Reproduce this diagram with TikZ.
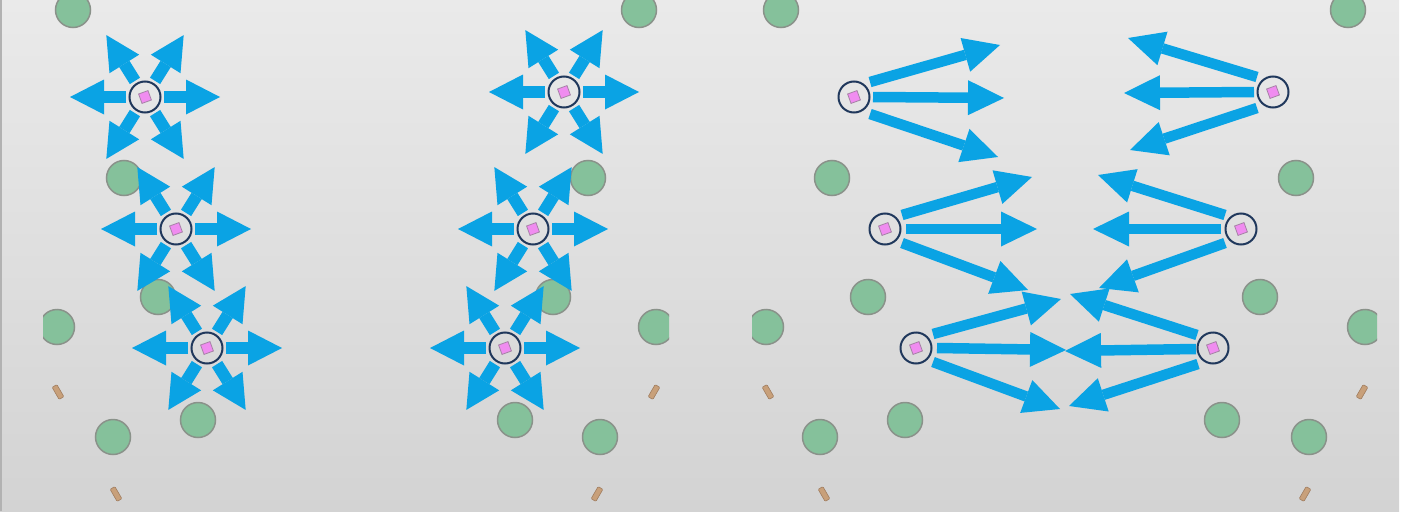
\documentclass[tikz,border=0pt]{standalone}
\usetikzlibrary{arrows.meta}
\definecolor{bgtop}{RGB}{234,234,234}
\definecolor{bgbot}{RGB}{211,211,211}
\definecolor{arrowblue}{RGB}{10,163,228}
\definecolor{treefill}{RGB}{133,193,155}
\definecolor{treeline}{RGB}{138,146,138}
\definecolor{ringcol}{RGB}{32,56,92}
\definecolor{pinkfill}{RGB}{240,140,240}
\definecolor{pinkline}{RGB}{165,130,165}
\definecolor{logfill}{RGB}{200,160,122}
\definecolor{logline}{RGB}{160,125,95}
\tikzset{
  tree/.style={circle, minimum size=35pt, inner sep=0pt, fill=treefill, draw=treeline, line width=1.5pt},
  logn/.style={rectangle, rounded corners=1pt, minimum width=5.5pt, minimum height=14pt, inner sep=0pt, fill=logfill, draw=logline, line width=0.6pt},
  agent/.style={circle, minimum size=31pt, inner sep=0pt, draw=ringcol, line width=2pt},
  pinksq/.style={rectangle, minimum size=10pt, inner sep=0pt, fill=pinkfill, draw=pinkline, line width=0.8pt, rotate=20},
  starr/.style={draw=arrowblue, line width=12pt, -{Triangle[length=34pt,width=35pt,line width=0pt]}},
  fanarr/.style={draw=arrowblue, line width=10.5pt, -{Triangle[length=36pt,width=35pt,line width=0pt]}}
}
\newcommand\staragent[3]{%
  \foreach \a/\L in {0/75,58/73,122/73,180/75,238/73,302/73}{
    \draw[starr,shift={(#2,#3)}] (\a:19) -- (\a:\L);
  }
  \node[agent] (#1) at (#2,#3) {};
  \node[pinksq] at (#1) {};
}
\newcommand\plainagent[3]{%
  \node[agent] (#1) at (#2,#3) {};
  \node[pinksq] at (#1) {};
}
\begin{document}
\begin{tikzpicture}[x=1pt,y=-1pt]
\useasboundingbox (0,0) rectangle (1407,511);
% background
\fill[white] (0,0) rectangle (1407,511);
\shade[top color=bgtop, bottom color=bgbot] (0,0) rectangle (1399,511);
\draw[gray!60,line width=1.5pt] (0.75,0) -- (0.75,511);

% ---------- trees and logs ----------
\begin{scope}
\clip (0,0) rectangle (1399,511);
% panel 1
\node[tree] (t1) at (73,10) {};
\node[tree] (t2) at (124,178) {};
\node[tree] (t3) at (158,297) {};
\node[tree] (t5) at (113,437) {};
\node[tree] (t6) at (198,420) {};
% panel 2
\node[tree] (u1) at (639,10) {};
\node[tree] (u2) at (588,178) {};
\node[tree] (u3) at (553,297) {};
\node[tree] (u5) at (600,437) {};
\node[tree] (u6) at (515,420) {};
% panel 3
\node[tree] (v1) at (781,10) {};
\node[tree] (v2) at (832,178) {};
\node[tree] (v3) at (868,297) {};
\node[tree] (v5) at (820,437) {};
\node[tree] (v6) at (905,420) {};
\node[tree] (w1) at (1348,10) {};
\node[tree] (w2) at (1296,178) {};
\node[tree] (w3) at (1260,297) {};
\node[tree] (w5) at (1309,437) {};
\node[tree] (w6) at (1222,420) {};
\end{scope}
% clipped trees
\begin{scope}\clip (43,0) rectangle (200,511); \node[tree] (t4) at (57,327) {};\end{scope}
\begin{scope}\clip (500,0) rectangle (669,511); \node[tree] (u4) at (656,327) {};\end{scope}
\begin{scope}\clip (752,0) rectangle (900,511); \node[tree] (v4) at (766,327) {};\end{scope}
\begin{scope}\clip (1200,0) rectangle (1377,511); \node[tree] (w4) at (1365,327) {};\end{scope}
% logs
\node[logn, rotate=30] (l1) at (58,392) {};
\node[logn, rotate=30] (l2) at (116,494) {};
\node[logn, rotate=-30] (l3) at (654,392) {};
\node[logn, rotate=-30] (l4) at (597,494) {};
\node[logn, rotate=30] (l5) at (768,392) {};
\node[logn, rotate=30] (l6) at (824,494) {};
\node[logn, rotate=-30] (l7) at (1362,392) {};
\node[logn, rotate=-30] (l8) at (1305,494) {};

% ---------- panel 1 and 2: star agents ----------
\staragent{a1}{145}{97}
\staragent{a2}{176}{229}
\staragent{a3}{207}{348}
\staragent{b1}{564}{92}
\staragent{b2}{533}{229}
\staragent{b3}{505}{348}

% ---------- panel 3: fan agents ----------
% left column
\draw[fanarr] (870,82) -- (1000,45);
\draw[fanarr] (873,97) -- (1004,98);
\draw[fanarr] (870,114) -- (998,157);
\draw[fanarr] (902,215) -- (1032,177);
\draw[fanarr] (906,229) -- (1037,229);
\draw[fanarr] (902,243) -- (1028,290);
\draw[fanarr] (933,334) -- (1061,299);
\draw[fanarr] (937,348) -- (1066,350);
\draw[fanarr] (933,362) -- (1060,409);
% right column
\draw[fanarr] (1257,77) -- (1128,38);
\draw[fanarr] (1254,92) -- (1124,93);
\draw[fanarr] (1257,108) -- (1130,150);
\draw[fanarr] (1225,215) -- (1098,175);
\draw[fanarr] (1221,229) -- (1093,229);
\draw[fanarr] (1225,243) -- (1099,288);
\draw[fanarr] (1197,335) -- (1070,294);
\draw[fanarr] (1196,349) -- (1065,351);
\draw[fanarr] (1198,364) -- (1069,406);
\plainagent{c1}{854}{97}
\plainagent{c2}{885}{229}
\plainagent{c3}{916}{348}
\plainagent{d1}{1273}{92}
\plainagent{d2}{1241}{229}
\plainagent{d3}{1213}{348}
\end{tikzpicture}
\end{document}
